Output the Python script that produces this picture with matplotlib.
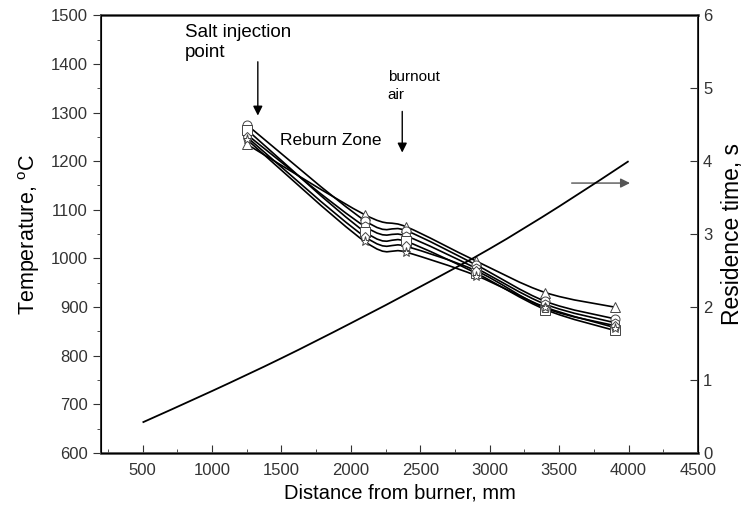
import matplotlib.pyplot as plt
import numpy as np
from matplotlib.path import Path
from matplotlib.patches import PathPatch

plt.rcParams['font.family'] = ['Liberation Sans', 'DejaVu Sans']
plt.rcParams['mathtext.fontset'] = 'custom'
plt.rcParams['mathtext.rm'] = 'Liberation Sans'

# distance from burner (mm) of the measuring ports
dist_mm = [1250, 2100, 2400, 2900, 3400, 3900]

# temperature profiles, degC
temp_tri = [1235, 1090, 1065, 995, 930, 900]
temp_circ = [1275, 1078, 1057, 987, 912, 876]
temp_hex = [1255, 1066, 1046, 980, 906, 868]
temp_sq = [1265, 1055, 1035, 970, 895, 852]
temp_pent = [1250, 1045, 1025, 975, 898, 862]
temp_star = [1245, 1035, 1013, 965, 900, 858]

# residence time curve
res_dist_mm = [500, 1000, 1500, 2000, 2500, 3000, 3500, 4000]
res_time_s = [0.42, 0.85, 1.3, 1.78, 2.28, 2.8, 3.38, 4.0]


def smooth_path(x, y):
    # Catmull-Rom style bezier through the given points
    pts = np.column_stack([x, y]).astype(float)
    verts = [pts[0]]
    codes = [Path.MOVETO]
    n = len(pts)
    for i in range(n - 1):
        p0 = pts[i - 1] if i > 0 else pts[i]
        p1 = pts[i]
        p2 = pts[i + 1]
        p3 = pts[i + 2] if i + 2 < n else pts[i + 1]
        verts += [p1 + (p2 - p0) / 6, p2 - (p3 - p1) / 6, p2]
        codes += [Path.CURVE4] * 3
    return Path(verts, codes)


fig = plt.figure(figsize=(7.53, 5.25), dpi=100)
ax = fig.add_axes([0.134, 0.137, 0.793, 0.834])

series = [
    (temp_tri, '^'),
    (temp_circ, 'o'),
    (temp_hex, 'h'),
    (temp_sq, 's'),
    (temp_pent, 'p'),
    (temp_star, '*'),
]
for vals, mk in series:
    ax.add_patch(PathPatch(smooth_path(dist_mm, vals), fill=False,
                           edgecolor='black', lw=1.2))
    ax.plot(dist_mm, vals, ls='none', marker=mk, ms=6.5,
            mfc='white', mec='#444444', mew=0.7, zorder=3)

ax.set_xlim(200, 4500)
ax.set_ylim(600, 1500)
ax.set_xticks(np.arange(500, 4501, 500))
ax.set_xticks(np.arange(250, 4500, 250), minor=True)
ax.set_yticks(np.arange(600, 1501, 100))
ax.set_yticks(np.arange(650, 1500, 100), minor=True)
ax.tick_params(axis='x', which='both', direction='in', labelsize=12, colors='#333333')
ax.tick_params(axis='x', which='major', length=6, pad=7)
ax.tick_params(axis='x', which='minor', length=3)
ax.tick_params(axis='y', which='both', direction='out', labelsize=12, colors='#333333')
ax.tick_params(axis='y', which='major', length=6)
ax.tick_params(axis='y', which='minor', length=3)
ax.set_xlabel('Distance from burner, mm', fontsize=14.5, labelpad=4)
ax.set_ylabel('Temperature, $^\\mathrm{o}$C', fontsize=15.5, labelpad=6)
for sp in ax.spines.values():
    sp.set_linewidth(1.4)
    sp.set_color('#333333')
ax.spines['bottom'].set_color('#555555')
ax.spines['bottom'].set_linewidth(2)
ax.spines['top'].set_color('#555555')
ax.spines['top'].set_linewidth(2)

ax2 = ax.twinx()
ax2.add_patch(PathPatch(smooth_path(res_dist_mm, res_time_s), fill=False,
                        edgecolor='black', lw=1.3))
ax2.set_ylim(0, 6)
ax2.set_yticks(np.arange(0, 7, 1))
ax2.tick_params(axis='y', direction='in', length=6, labelsize=12, colors='#333333')
ax2.set_ylabel('Residence time, s', fontsize=16.5, labelpad=6)

# annotations
ax.text(805, 1482, 'Salt injection\npoint', fontsize=13.5, va='top', ha='left',
        linespacing=1.25)
ax.annotate('', xy=(1330, 1288), xytext=(1330, 1410),
            arrowprops=dict(arrowstyle='-|>', color='black', lw=1.0,
                            mutation_scale=14))
ax.text(2265, 1388, 'burnout\nair', fontsize=11, va='top', ha='left',
        linespacing=1.4)
ax.annotate('', xy=(2370, 1212), xytext=(2370, 1308),
            arrowprops=dict(arrowstyle='-|>', color='black', lw=1.0,
                            mutation_scale=14))
ax.text(1490, 1243, 'Reburn Zone', fontsize=12.5, va='center', ha='left')
ax.annotate('', xy=(4030, 1155), xytext=(3570, 1155),
            arrowprops=dict(arrowstyle='-|>', color='#555555', lw=1.0,
                            mutation_scale=14))

fig.savefig('out.png', dpi=100)
